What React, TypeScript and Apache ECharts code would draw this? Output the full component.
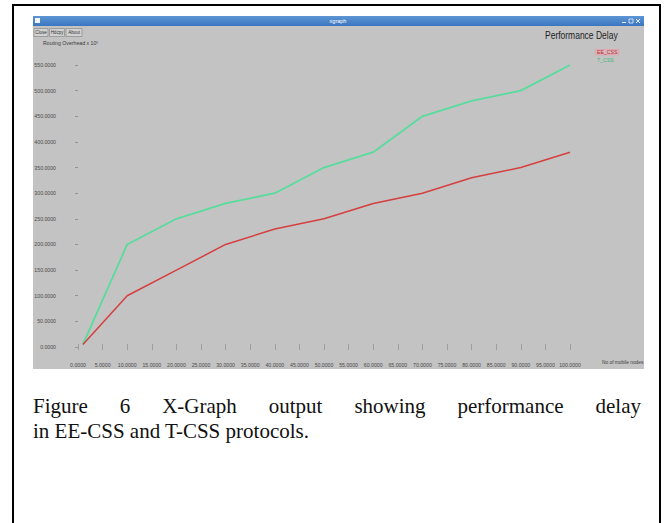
import React, { useEffect, useRef } from "react";
import * as echarts from "echarts";

// ---- data ----
const nodeCounts = [1, 10, 20, 30, 40, 50, 60, 70, 80, 90, 100];
const eeCssDelay = [5, 100, 150, 200, 230, 250, 280, 300, 330, 350, 380];
const tCssDelay = [5, 200, 250, 280, 300, 350, 380, 450, 480, 500, 550];
const seriesNames = ["EE_CSS", "T_CSS"];
const seriesColors = ["#d63f3f", "#58dc9c"];
const xRange = [0, 100, 5];
const yRange = [0, 550, 50];
const windowTitle = "xgraph";
const buttonLabels = ["Close", "Hdcpy", "About"];
const chartTitle = "Performance Delay";
const yUnitLabel = "Routing Overhead x 10³";
const xUnitLabel = "No of mobile nodes";
const captionLine1 = ["Figure", "6", "X-Graph", "output", "showing", "performance", "delay"];
const captionLine2 = "in EE-CSS and T-CSS protocols.";

const W = 672;
const H = 523;

export default function App() {
  const ref = useRef<HTMLDivElement>(null);

  useEffect(() => {
    if (!ref.current) return;
    const chart = echarts.init(ref.current, null, { renderer: "svg", width: W, height: H });

    // caption: first line stretched to the column width (justified)
    const capSize = 21;
    const capScale = 1.0;
    const capFont = '"Liberation Serif", serif';
    const cvs = document.createElement("canvas").getContext("2d")!;
    cvs.font = `${capSize}px ${capFont}`;
    const capLeft = 33;
    const capRight = 641;
    const widths = captionLine1.map((w) => cvs.measureText(w).width * capScale);
    const total = widths.reduce((a, b) => a + b, 0);
    const gap = (capRight - capLeft - total) / (captionLine1.length - 1);
    let cx = capLeft;
    const captionWords = captionLine1.map((w, i) => {
      const el = {
        type: "text",
        x: cx,
        y: 406,
        z: 10,
        scaleX: capScale,
        style: { text: w, font: `${capSize}px ${capFont}`, fill: "#111", textVerticalAlign: "middle" },
      };
      cx += widths[i] + gap;
      return el;
    });

    const tickColor = "#8e8e8e";
    const labelColor = "#4a4a4a";
    const smallFont = "Liberation Sans";

    const buttons: any[] = [];
    let bx = 34;
    const bw = [14, 15, 16];
    buttonLabels.forEach((b, i) => {
      buttons.push({
        type: "rect",
        z: 1,
        shape: { x: bx, y: 28.5, width: bw[i], height: 8 },
        style: { fill: "#d2d2d2", stroke: "#8a8a8a", lineWidth: 0.7 },
      });
      buttons.push({
        type: "text",
        z: 2,
        x: bx + bw[i] / 2,
        y: 32.5,
        style: { text: b, fontSize: 4.5, fontFamily: smallFont, fill: "#333", align: "center", verticalAlign: "middle" },
      });
      bx += bw[i] + 1.5;
    });

    chart.setOption({
      animation: false,
      backgroundColor: "#ffffff",
      grid: { left: 78, top: 65, width: 492, height: 282, containLabel: false },
      xAxis: [
        {
          type: "value",
          min: xRange[0],
          max: xRange[1],
          interval: xRange[2],
          position: "bottom",
          offset: 10,
          axisLine: { show: false },
          axisTick: { show: true, inside: true, length: 3, lineStyle: { color: tickColor, width: 0.7 } },
          axisLabel: {
            fontSize: 5.2,
            fontFamily: smallFont,
            color: labelColor,
            margin: 5,
            formatter: (v: number) => v.toFixed(4),
          },
          splitLine: { show: false },
        },
        {
          type: "value",
          min: xRange[0],
          max: xRange[1],
          interval: xRange[2],
          position: "top",
          offset: 17,
          axisLine: { show: false },
          axisTick: { show: true, inside: true, length: 3, lineStyle: { color: tickColor, width: 0.7 } },
          axisLabel: { show: false },
          splitLine: { show: false },
        },
      ],
      yAxis: [
        {
          type: "value",
          min: yRange[0],
          max: yRange[1],
          interval: yRange[2],
          position: "left",
          offset: 18,
          axisLine: { show: false },
          axisTick: { show: true, inside: false, length: 3, lineStyle: { color: tickColor, width: 0.7 } },
          axisLabel: {
            fontSize: 5.2,
            fontFamily: smallFont,
            color: labelColor,
            margin: 4,
            formatter: (v: number) => v.toFixed(4),
          },
          splitLine: { show: false },
        },
        {
          type: "value",
          min: yRange[0],
          max: yRange[1],
          interval: yRange[2],
          position: "right",
          offset: 26,
          axisLine: { show: false },
          axisTick: { show: true, inside: true, length: 3, lineStyle: { color: tickColor, width: 0.7 } },
          axisLabel: { show: false },
          splitLine: { show: false },
        },
      ],
      legend: {
        orient: "vertical",
        left: 591,
        top: 49,
        icon: "none",
        itemWidth: 0,
        itemHeight: 6,
        itemGap: 1.5,
        padding: 0,
        textStyle: { fontSize: 5.2, fontFamily: smallFont, padding: [0, 1] },
        data: [
          {
            name: seriesNames[0],
            textStyle: { color: "#c02828", borderColor: "#e29aaa", borderWidth: 0.6, backgroundColor: "#d9b7bd" },
          },
          { name: seriesNames[1], textStyle: { color: "#3cb878" } },
        ],
      },
      series: [
        {
          name: seriesNames[0],
          type: "line",
          data: nodeCounts.map((x, i) => [x, eeCssDelay[i]]),
          symbol: "none",
          color: seriesColors[0],
          lineStyle: { width: 1.5, color: seriesColors[0] },
          z: 5,
        },
        {
          name: seriesNames[1],
          type: "line",
          data: nodeCounts.map((x, i) => [x, tCssDelay[i]]),
          symbol: "none",
          color: seriesColors[1],
          lineStyle: { width: 1.8, color: seriesColors[1] },
          z: 4,
        },
      ],
      graphic: [
        // window body
        { type: "rect", z: -1, shape: { x: 33, y: 16, width: 611, height: 353 }, style: { fill: "#c3c3c3" } },
        // title bar
        {
          type: "rect",
          z: 0,
          shape: { x: 33, y: 16, width: 611, height: 10 },
          style: {
            fill: new echarts.graphic.LinearGradient(0, 0, 0, 1, [
              { offset: 0, color: "#5d95d4" },
              { offset: 1, color: "#3a76c0" },
            ]),
          },
        },
        { type: "rect", z: 1, shape: { x: 35, y: 18, width: 5, height: 5 }, style: { fill: "#f4f4f4" } },
        {
          type: "text",
          z: 2,
          x: 338,
          y: 21,
          style: { text: windowTitle, fontSize: 5.5, fontFamily: smallFont, fill: "#ffffff", align: "center", verticalAlign: "middle" },
        },
        { type: "rect", z: 1, shape: { x: 622, y: 22, width: 4, height: 1 }, style: { fill: "#e8f0ff" } },
        { type: "rect", z: 1, shape: { x: 629, y: 19, width: 4, height: 4 }, style: { fill: "none", stroke: "#e8f0ff", lineWidth: 0.8 } },
        { type: "line", z: 1, shape: { x1: 636, y1: 19, x2: 640, y2: 23 }, style: { stroke: "#e8f0ff", lineWidth: 1 } },
        { type: "line", z: 1, shape: { x1: 640, y1: 19, x2: 636, y2: 23 }, style: { stroke: "#e8f0ff", lineWidth: 1 } },
        ...buttons,
        {
          type: "text",
          z: 2,
          x: 43,
          y: 43,
          style: { text: yUnitLabel, fontSize: 5.2, fontFamily: smallFont, fill: "#3c3c3c", verticalAlign: "middle" },
        },
        {
          type: "text",
          z: 2,
          x: 545,
          y: 36,
          scaleX: 0.85,
          style: { text: chartTitle, fontSize: 10, fontFamily: smallFont, fill: "#1e1e1e", verticalAlign: "middle" },
        },
        {
          type: "text",
          z: 2,
          x: 602,
          y: 362,
          style: { text: xUnitLabel, fontSize: 4.8, fontFamily: smallFont, fill: "#3c3c3c", verticalAlign: "middle" },
        },
        // outer figure frame
        {
          type: "polyline",
          z: 3,
          shape: { points: [[13, H], [13, 5], [660, 5], [660, H]] },
          style: { stroke: "#000000", lineWidth: 2, fill: "none" },
        },
        ...captionWords,
        {
          type: "text",
          x: capLeft,
          y: 431,
          z: 10,
          scaleX: capScale,
          style: { text: captionLine2, font: `${capSize}px ${capFont}`, fill: "#111", textVerticalAlign: "middle" },
        },
      ],
    });

    return () => chart.dispose();
  }, []);

  return (
    <div
      ref={ref}
      style={{ position: "fixed", left: 0, top: 0, width: W, height: H, background: "#fff" }}
    />
  );
}
